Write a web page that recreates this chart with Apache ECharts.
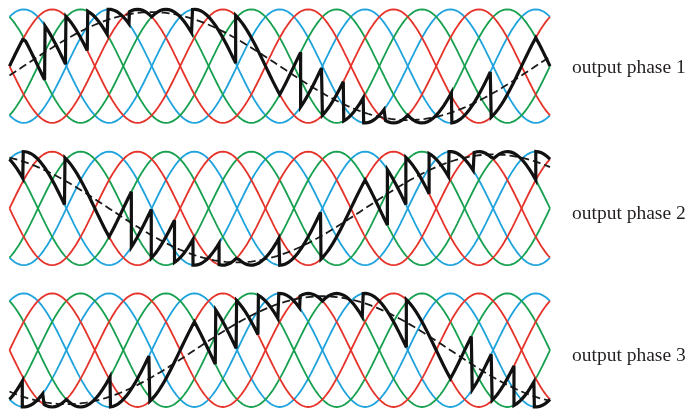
<!DOCTYPE html>
<html><head><meta charset="utf-8">
<script src="https://cdn.jsdelivr.net/npm/echarts@6.0.0/dist/echarts.min.js"></script>
<style>html,body{margin:0;padding:0;background:#fff}#c{width:688px;height:410px}</style>
</head><body><div id="c"></div>
<script>
// ---- data ----
// input supply phases (angle in input degrees): zero-crossing shift of each phase
const phaseNames = ['a', 'b', 'c'];
const phaseColors = ['#E5332A', '#1FA3DC', '#17A04F'];
const phaseShiftDeg = [0, -120, 120];
// horizontal extent of each panel, in input degrees
const spanStart = 0;
const spanEnd = 1140;
// wanted (dashed) output voltage
const outputPeriodDeg = 1080;
const outputZeroDeg = 30;
const outputPhaseDeg = [0, 120, -120];
const outputAmp = 0.95;
const panelLabels = ['output phase 1', 'output phase 2', 'output phase 3'];

// actual (black) output: switching angles and the supply curve followed in between
const out1Switch = [0, 30, 75, 119, 165, 208, 253, 300, 386, 477, 570, 614, 660, 705, 747, 793, 840, 933, 1016, 1110, 1140];
const out1Curve = ['a', 'c', '-b', 'a', '-c', 'b', '-a', 'c', '-b', 'a', 'c', '-b', 'a', '-c', 'b', '-a', 'c', '-b', 'a', 'c'];
const out2Switch = [0, 29, 117, 210, 257, 299, 348, 387, 442, 480, 570, 657, 750, 797, 836, 885, 927, 980, 1020, 1110, 1140];
const out2Curve = ['c', '-b', 'a', 'c', '-b', 'a', '-c', 'b', '-a', 'c', '-b', 'a', 'c', '-b', 'a', '-c', 'b', '-a', 'c', '-b'];
const out3Switch = [0, 27, 73, 120, 213, 296, 390, 435, 479, 525, 568, 613, 660, 746, 837, 930, 976, 1018, 1064, 1107, 1140];
const out3Curve = ['-c', 'b', '-a', 'c', '-b', 'a', 'c', '-b', 'a', '-c', 'b', '-a', 'c', '-b', 'a', 'c', '-b', 'a', '-c', 'b'];

// ---- build ----
const STEP = 2;
function curveVal(name, t) {
  const neg = name[0] === '-';
  const p = phaseNames.indexOf(neg ? name.slice(1) : name);
  const v = Math.sin((t + phaseShiftDeg[p]) * Math.PI / 180);
  return neg ? -v : v;
}
function curveSeries(name) {
  const d = [];
  for (let t = spanStart; t <= spanEnd; t += STEP) d.push([t, curveVal(name, t)]);
  return d;
}
function outputSeries(sw, cv) {
  const d = [];
  for (let i = 0; i < cv.length; i++) {
    const s = sw[i], e = sw[i + 1];
    d.push([s, curveVal(cv[i], s)]);
    for (let t = Math.ceil(s / STEP) * STEP; t < e; t += STEP) if (t > s) d.push([t, curveVal(cv[i], t)]);
    d.push([e, curveVal(cv[i], e)]);
  }
  return d;
}
function refSeries(k) {
  const d = [];
  for (let t = spanStart; t <= spanEnd; t += STEP)
    d.push([t, outputAmp * Math.sin(((t - outputZeroDeg) / outputPeriodDeg * 360 + outputPhaseDeg[k]) * Math.PI / 180)]);
  return d;
}

const gridTops = [9.3, 151.6, 293.4];
const gridH = 113.6;
const outs = [[out1Switch, out1Curve], [out2Switch, out2Curve], [out3Switch, out3Curve]];

const grids = [], xAxes = [], yAxes = [], series = [];
for (let k = 0; k < 3; k++) {
  grids.push({left: 9.5, width: 540.5, top: gridTops[k], height: gridH});
  xAxes.push({type: 'value', gridIndex: k, min: spanStart, max: spanEnd, show: false});
  yAxes.push({type: 'value', gridIndex: k, min: -1, max: 1, show: false});
  const base = {type: 'line', xAxisIndex: k, yAxisIndex: k, showSymbol: false, symbol: 'none', clip: false, silent: true, animation: false};
  ['b', '-b', 'c', '-c', 'a', '-a'].forEach(n => {
    const p = phaseNames.indexOf(n.replace('-', ''));
    series.push(Object.assign({}, base, {data: curveSeries(n), lineStyle: {color: phaseColors[p], width: 1.8}, z: 2}));
  });
  series.push(Object.assign({}, base, {data: refSeries(k), lineStyle: {color: '#1a1a1a', width: 1.8, type: [8, 4]}, z: 3}));
  series.push(Object.assign({}, base, {data: outputSeries(outs[k][0], outs[k][1]), lineStyle: {color: '#111', width: 3.2, join: 'miter', miterLimit: 4}, z: 4}));
}

const labelY = [68, 214, 356];
const graphic = panelLabels.map((t, k) => ({
  type: 'text', x: 572, y: labelY[k], silent: true,
  style: {text: t, fontSize: 19.5, fontFamily: '"Liberation Serif", "Times New Roman", serif', fill: '#231f20', align: 'left', verticalAlign: 'middle'}
}));

const chart = echarts.init(document.getElementById('c'), null, {renderer: 'canvas'});
chart.setOption({animation: false, backgroundColor: '#fff', grid: grids, xAxis: xAxes, yAxis: yAxes, series: series, graphic: graphic});
</script>
</body></html>
